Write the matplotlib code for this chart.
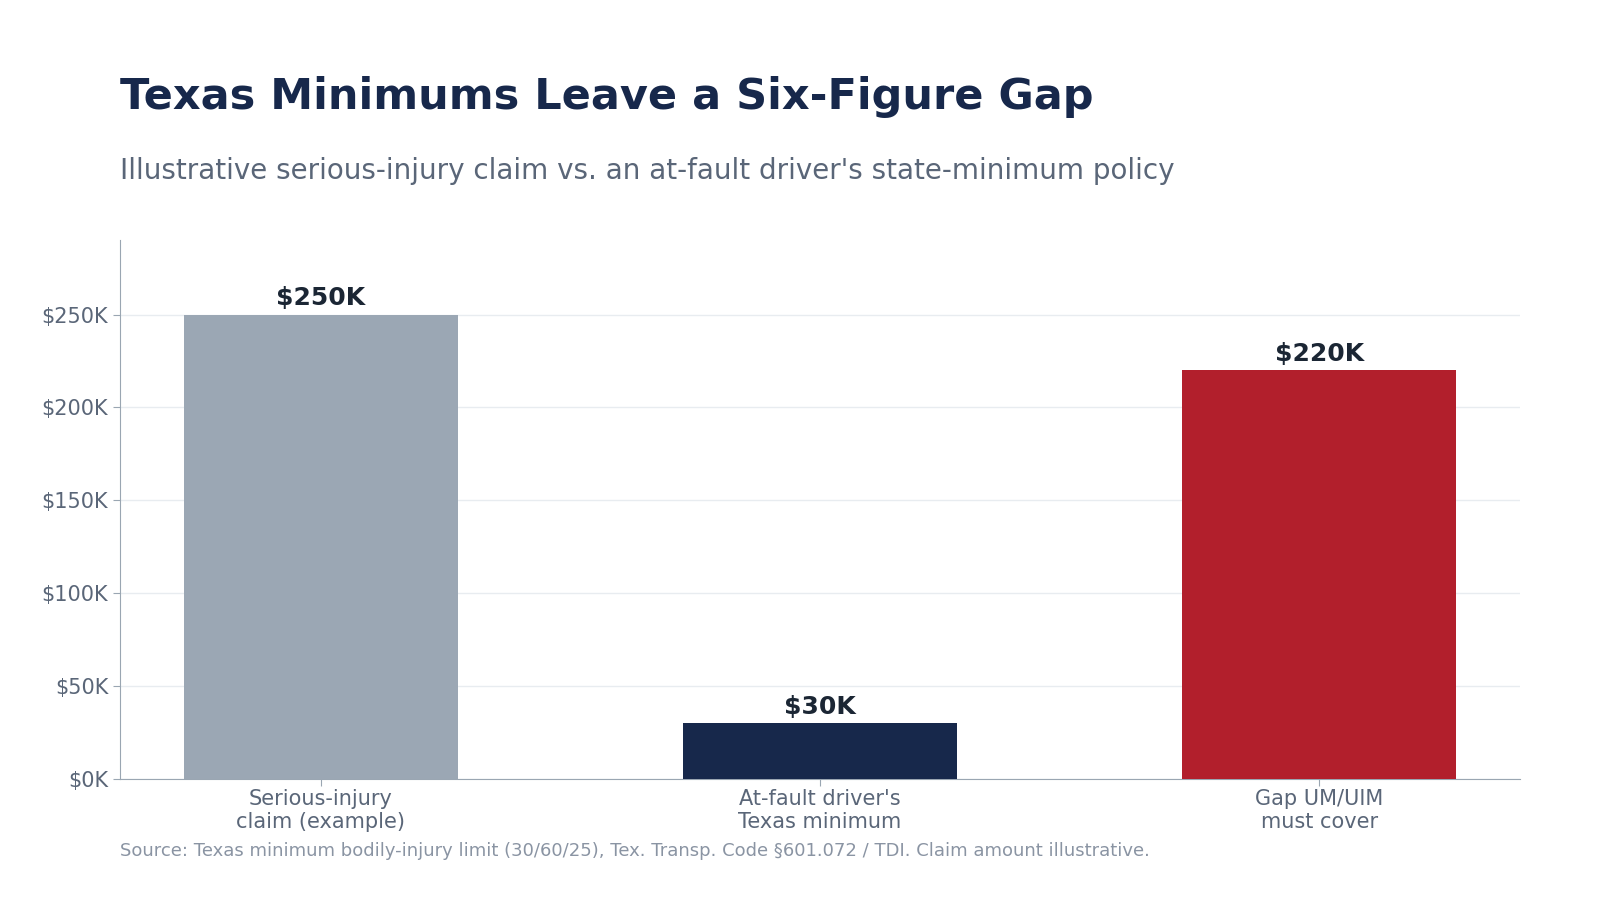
import matplotlib
matplotlib.use("Agg")
import matplotlib.pyplot as plt
from matplotlib.ticker import FuncFormatter

categories = ["Serious-injury\nclaim (example)", "At-fault driver's\nTexas minimum", "Gap UM/UIM\nmust cover"]
values = [250000, 30000, 220000]
labels = ["$250K", "$30K", "$220K"]
colors = ["#9BA7B4", "#17284B", "#B21F2C"]

fig = plt.figure(figsize=(16, 9), dpi=100)
ax = fig.add_axes([0.075, 0.1344, 0.875, 0.5986])

x = list(range(len(categories)))
ax.bar(x, values, width=0.55, color=colors, zorder=3)
for xi, v, lab in zip(x, values, labels):
    ax.annotate(lab, (xi, v), xytext=(0, 3), textcoords="offset points",
                ha="center", va="bottom", fontsize=18, fontweight="bold", color="#1B2634")

ax.set_ylim(0, 290000)
ax.set_yticks([0, 50000, 100000, 150000, 200000, 250000])
ax.yaxis.set_major_formatter(FuncFormatter(lambda v, p: f"${v/1000:.0f}K"))
ax.set_xticks(x)
ax.set_xticklabels(categories)
ax.tick_params(axis="both", labelsize=15, colors="#5A6678", length=5)
ax.tick_params(axis="x", pad=2)
ax.tick_params(axis="both", color="#9AA6B2")
ax.grid(axis="y", color="#E8ECF0", linewidth=1, zorder=0)
for s in ["top", "right"]:
    ax.spines[s].set_visible(False)
for s in ["left", "bottom"]:
    ax.spines[s].set_color("#9AA6B2")

fig.text(0.075, 0.892, "Texas Minimums Leave a Six-Figure Gap", fontsize=31, fontweight="bold",
         color="#17284B", va="center", ha="left")
fig.text(0.075, 0.81, "Illustrative serious-injury claim vs. an at-fault driver's state-minimum policy",
         fontsize=20, color="#5A6678", va="center", ha="left")
fig.text(0.075, 0.055, "Source: Texas minimum bodily-injury limit (30/60/25), Tex. Transp. Code §601.072 / TDI. Claim amount illustrative.",
         fontsize=13, color="#8A94A3", va="center", ha="left")

fig.savefig("out.png", dpi=100)
